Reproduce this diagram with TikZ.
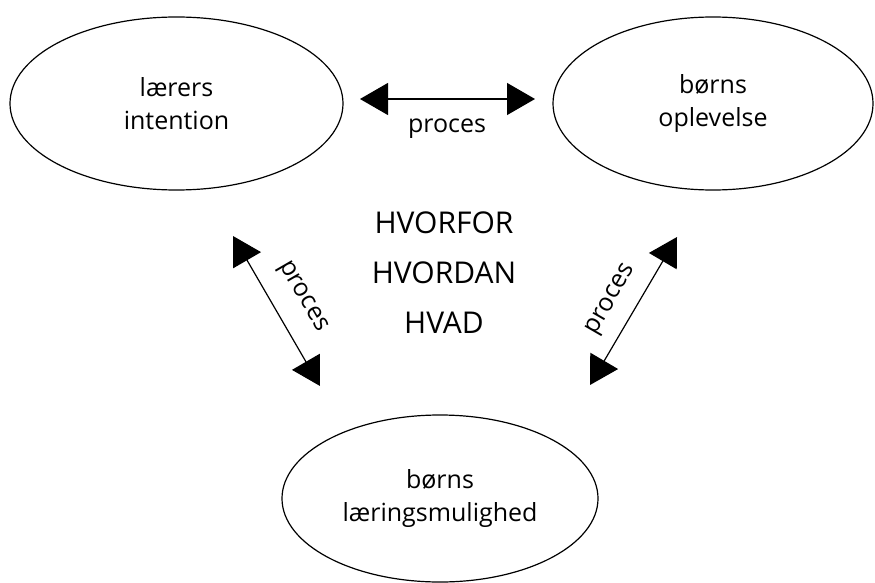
\documentclass[tikz,border=0pt]{standalone}
\usepackage{fontspec}
\setmainfont{Open Sans}
\usetikzlibrary{arrows.meta,shapes.geometric}
\begin{document}
\begin{tikzpicture}[x=1pt,y=-1pt,
  bubble/.style={ellipse, draw, line width=1.2pt, inner sep=0pt, align=center,
    font=\fontsize{25}{33}\selectfont},
  link/.style={line width=1.2pt,
    {Triangle[length=28pt,width=32pt]}-{Triangle[length=28pt,width=32pt]}},
  lbl/.style={font=\fontsize{25}{30}\selectfont, inner sep=0pt},
  big/.style={font=\fontsize{30}{36}\selectfont, inner sep=0pt, anchor=base}]
\useasboundingbox (0,0) rectangle (875,583);
% ellipses
\node[bubble, minimum width=333pt, minimum height=173pt] (L) at (176.5,103.5) {lærers\\intention};
\node[bubble, minimum width=320pt, minimum height=173pt] (R) at (713,103.5) {børns\\oplevelse};
\node[bubble, minimum width=316pt, minimum height=167pt] (B) at (440,498.5) {børns\\læringsmulighed};
% arrow ends
\coordinate (t1) at (360,99);
\coordinate (t2) at (535,99);
\coordinate (a1) at (233,236);
\coordinate (a2) at (320,386);
\coordinate (b1) at (590,385);
\coordinate (b2) at (677,237);
\draw[link] (t1) -- (t2);
\draw[link] (a1) -- (a2);
\draw[link] (b1) -- (b2);
% labels
\node[lbl, anchor=base] (p1) at (447,132) {proces};
\node[lbl, rotate=-60] (p2) at (302,297) {proces};
\node[lbl, rotate=60] (p3) at (612,300) {proces};
% central text
\node[big] (w1) at (444,233) {HVORFOR};
\node[big] (w2) at (444,283) {HVORDAN};
\node[big] (w3) at (444,333) {HVAD};
\end{tikzpicture}
\end{document}
